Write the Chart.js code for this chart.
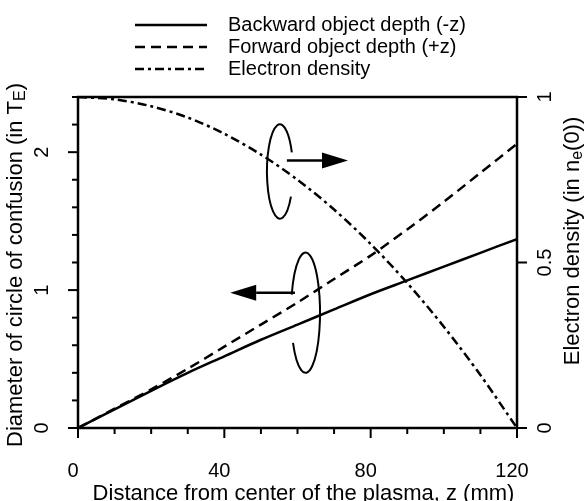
<!DOCTYPE html>
<html>
<head>
<meta charset="utf-8">
<script src="https://cdn.jsdelivr.net/npm/chart.js@4.4.1/dist/chart.umd.min.js"></script>
<style>
  html, body { margin: 0; padding: 0; background: #fff; }
  #wrap { width: 584px; height: 501px; position: relative; }
</style>
</head>
<body>
<div id="wrap"><canvas id="chart"></canvas></div>
<script>
// ---- Data ----
const zMM = [0, 10, 20, 30, 40, 50, 60, 70, 80, 90, 100, 110, 120];
const backwardDepth = [0, 0.135, 0.27, 0.40, 0.52, 0.64, 0.75, 0.86, 0.97, 1.07, 1.17, 1.27, 1.37];
const forwardDepth  = [0, 0.14, 0.28, 0.43, 0.59, 0.75, 0.91, 1.08, 1.25, 1.44, 1.64, 1.85, 2.06];
const electronDensity = [1, 0.993, 0.972, 0.938, 0.889, 0.826, 0.75, 0.66, 0.556, 0.438, 0.306, 0.16, 0];

const xTicksMajor = [0, 40, 80, 120];
const xTicksMinor = [10, 20, 30, 50, 60, 70, 90, 100, 110];
const yLeftMajor = [0, 1, 2];
const yLeftMinor = [0.2, 0.4, 0.6, 0.8, 1.2, 1.4, 1.6, 1.8, 2.2, 2.4];
const yRightMajor = [0, 0.5, 1];
const yRightLabels = ["0", "0.5", "1"];

const legendLabels = ["Backward object depth (-z)", "Forward object depth (+z)", "Electron density"];

const FONT = "'Liberation Sans', Arial, Helvetica, sans-serif";
const DASH = [10, 6];
const DASHDOT = [9, 4, 3, 4];

const pts = (ys) => zMM.map((x, i) => ({ x: x, y: ys[i] }));

// draw text made of parts (for subscripts), centred at (x, y), optionally rotated
function richText(ctx, parts, x, y, rot) {
  ctx.save();
  ctx.translate(x, y);
  ctx.rotate(rot || 0);
  let total = 0;
  parts.forEach((p) => { ctx.font = p.size + "px " + FONT; total += ctx.measureText(p.t).width; });
  let cx = -total / 2;
  ctx.textAlign = "left";
  ctx.textBaseline = "middle";
  parts.forEach((p) => {
    ctx.font = p.size + "px " + FONT;
    ctx.fillText(p.t, cx, p.dy || 0);
    cx += ctx.measureText(p.t).width;
  });
  ctx.restore();
}

const axesPlugin = {
  id: "axesPlugin",
  afterDraw(chart) {
    const ctx = chart.ctx;
    const a = chart.chartArea;
    const sx = chart.scales.x, sl = chart.scales.yL, sr = chart.scales.yR;
    ctx.save();
    ctx.strokeStyle = "#000";
    ctx.fillStyle = "#000";
    ctx.lineCap = "butt";

    // frame
    ctx.lineWidth = 2.5;
    ctx.strokeRect(a.left, a.top, a.right - a.left, a.bottom - a.top);

    // ticks
    ctx.lineWidth = 2;
    const tick = (x1, y1, x2, y2) => { ctx.beginPath(); ctx.moveTo(x1, y1); ctx.lineTo(x2, y2); ctx.stroke(); };
    xTicksMajor.forEach((v) => { const p = sx.getPixelForValue(v); tick(p, a.bottom, p, a.bottom + 10); });
    xTicksMinor.forEach((v) => { const p = sx.getPixelForValue(v); tick(p, a.bottom, p, a.bottom + 6); });
    yLeftMajor.forEach((v) => { const p = sl.getPixelForValue(v); tick(a.left, p, a.left - 10, p); });
    yLeftMinor.forEach((v) => { const p = sl.getPixelForValue(v); tick(a.left, p, a.left - 6, p); });
    yRightMajor.forEach((v) => { const p = sr.getPixelForValue(v); tick(a.right, p, a.right + 10, p); });

    // tick labels
    ctx.font = "20px " + FONT;
    ctx.textAlign = "center";
    ctx.textBaseline = "alphabetic";
    xTicksMajor.forEach((v) => { ctx.fillText(String(v), sx.getPixelForValue(v) - 5, a.bottom + 49); });
    yLeftMajor.forEach((v) => {
      ctx.save(); ctx.translate(a.left - 30, sl.getPixelForValue(v)); ctx.rotate(-Math.PI / 2);
      ctx.textBaseline = "alphabetic"; ctx.fillText(String(v), 0, 0); ctx.restore();
    });
    yRightMajor.forEach((v, i) => {
      ctx.save(); ctx.translate(a.right + 34, sr.getPixelForValue(v)); ctx.rotate(-Math.PI / 2);
      ctx.textBaseline = "alphabetic"; ctx.fillText(yRightLabels[i], 0, 0); ctx.restore();
    });

    // axis titles
    richText(ctx, [{ t: "Distance from center of the plasma, z (mm)", size: 22 }], (a.left + a.right) / 2 + 6, a.bottom + 66, 0);
    richText(ctx, [
      { t: "Diameter of circle of confusion (in T", size: 22 },
      { t: "E", size: 16, dy: 5 },
      { t: ")", size: 22 },
    ], 16, 265, -Math.PI / 2);
    richText(ctx, [
      { t: "Electron density (in n", size: 22 },
      { t: "e", size: 16, dy: 5 },
      { t: "(0))", size: 22 },
    ], 573, 241, -Math.PI / 2);

    // legend
    const dashes = [[], DASH, DASHDOT];
    ctx.font = "20px " + FONT;
    ctx.textAlign = "left";
    ctx.textBaseline = "alphabetic";
    legendLabels.forEach((lab, i) => {
      const y = 25 + i * 22;
      ctx.lineWidth = 2.5;
      ctx.setLineDash(dashes[i]);
      ctx.beginPath(); ctx.moveTo(135, y); ctx.lineTo(207, y); ctx.stroke();
      ctx.setLineDash([]);
      ctx.fillText(lab, 228, y + 6);
    });

    // rotation marks + arrows (positions in data units)
    const ellipse = (z, yv, rz, ry, t0, t1) => {
      const cx = sx.getPixelForValue(z), cy = sl.getPixelForValue(yv);
      const rx = sx.getPixelForValue(z + rz) - cx, rY = cy - sl.getPixelForValue(yv + ry);
      ctx.lineWidth = 2;
      ctx.beginPath(); ctx.ellipse(cx, cy, rx, rY, 0, t0, t1); ctx.stroke();
    };
    const arrow = (z0, z1, yv) => {
      const x0 = sx.getPixelForValue(z0), x1 = sx.getPixelForValue(z1), y = sl.getPixelForValue(yv);
      const dir = Math.sign(x1 - x0), head = 26;
      ctx.lineWidth = 2.5;
      ctx.beginPath(); ctx.moveTo(x0, y); ctx.lineTo(x1 - dir * head, y); ctx.stroke();
      ctx.beginPath(); ctx.moveTo(x1, y); ctx.lineTo(x1 - dir * head, y - 8); ctx.lineTo(x1 - dir * head, y + 8); ctx.closePath(); ctx.fill();
    };
    ellipse(55.2, 1.86, 3.55, 0.342, 0.561, 2 * Math.PI - 0.416);
    arrow(57.1, 73.8, 1.94);
    ellipse(62.2, 0.836, 3.96, 0.436, 3.446, 2.618 + 2 * Math.PI);
    arrow(59.3, 41.6, 0.98);

    ctx.restore();
  },
};

const common = { pointRadius: 0, borderColor: "#000", borderWidth: 2.5, fill: false, tension: 0.3 };

new Chart(document.getElementById("chart"), {
  type: "line",
  data: {
    datasets: [
      { label: legendLabels[0], data: pts(backwardDepth), yAxisID: "yL", ...common },
      { label: legendLabels[1], data: pts(forwardDepth), yAxisID: "yL", borderDash: DASH, ...common },
      { label: legendLabels[2], data: pts(electronDensity), yAxisID: "yR", borderDash: DASHDOT, ...common },
    ],
  },
  options: {
    responsive: true,
    maintainAspectRatio: false,
    animation: false,
    layout: { padding: { left: 78, right: 67, top: 97, bottom: 73 } },
    scales: {
      x: { type: "linear", display: false, min: 0, max: 120 },
      yL: { type: "linear", display: false, min: 0, max: 2.4, position: "left" },
      yR: { type: "linear", display: false, min: 0, max: 1, position: "right" },
    },
    plugins: { legend: { display: false }, tooltip: { enabled: false } },
  },
  plugins: [axesPlugin],
});
</script>
</body>
</html>
